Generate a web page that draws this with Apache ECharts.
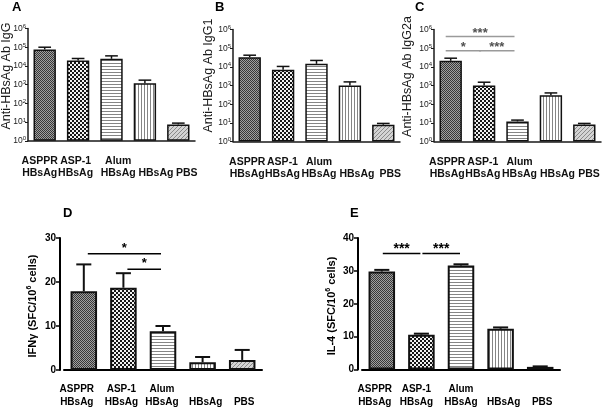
<!DOCTYPE html>
<html><head><meta charset="utf-8">
<script src="https://cdn.jsdelivr.net/npm/echarts@6/dist/echarts.min.js"></script>
<style>html,body{margin:0;padding:0;background:#fff}#c{width:602px;height:408px}</style>
</head><body><div id="c"></div>
<script>
// ---------------- data ----------------
const categories = ['ASPPR HBsAg', 'ASP-1 HBsAg', 'Alum HBsAg', 'HBsAg', 'PBS'];
const igG      = [7.6e4, 1.96e4, 2.4e4, 1.2e3, 7.5];
const igGErr   = [1.0e5, 2.5e4, 3.45e4, 1.74e3, 8.8];
const igG1     = [3.3e4, 6.9e3, 1.45e4, 1.0e3, 7.9];
const igG1Err  = [4.2e4, 1.05e4, 2.2e4, 1.56e3, 9.3];
const igG2a    = [2.1e4, 1.0e3, 11.9, 297, 8.2];
const igG2aErr = [2.9e4, 1.5e3, 14, 400, 9.3];
const ifng     = [17.9, 18.7, 8.8, 1.75, 2.28];
const ifngErr  = [24.0, 22.0, 10.0, 2.96, 4.56];
const il4      = [29.8, 10.6, 31.6, 12.4, 0.8];
const il4Err   = [30.3, 10.9, 32.0, 12.8, 0.95];
const logTicks  = [1, 1e1, 1e2, 1e3, 1e4, 1e5, 1e6];
const ifngTicks = [0, 10, 20, 30];
const il4Ticks  = [0, 10, 20, 30, 40];
const yTitles = ['Anti-HBsAg Ab IgG', 'Anti-HBsAg Ab IgG1', 'Anti-HBsAg Ab IgG2a', 'IFNγ (SFC/10{s|6} cells)', 'IL-4 (SFC/10{s|6} cells)'];
// significance brackets: [fromIndex, toIndex, level, label]
const sigC = [[0, 2, 4.2e5, '***'], [0, 1, 7.2e4, '*'], [1, 2, 7.2e4, '***']];
const sigD = [[0, 2, 26.4, '*'], [1, 2, 22.9, '*']];
const sigE = [[0, 1, 35.3, '***'], [1, 2, 35.3, '***']];

// ---------------- styles ----------------
function hasFont(f) {
  const c = document.createElement('canvas').getContext('2d');
  c.font = 'bold 20px monospace';
  const a = c.measureText('HBsAg mmmWi').width;
  c.font = 'bold 20px "' + f + '", monospace';
  const b = c.measureText('HBsAg mmmWi').width;
  return a !== b;
}
const NARROW = hasFont('Liberation Sans Narrow');
const SANS = '"Liberation Sans", Arial, sans-serif';
const LOWFONT = NARROW ? '"Liberation Sans Narrow", "Liberation Sans", sans-serif' : SANS;
const LOWSIZE = NARROW ? 11 : 10;

function makePatterns() {
  function cv(w, h, draw) {
    const c = document.createElement('canvas'); c.width = w; c.height = h;
    const x = c.getContext('2d'); draw(x); return { image: c, repeat: 'repeat' };
  }
  return [
    cv(4, 4, x => { x.fillStyle = '#a0a0a0'; x.fillRect(0, 0, 4, 4); x.fillStyle = '#383838';
      for (let i = 0; i < 4; i++) for (let j = 0; j < 4; j++) if ((i + j) % 2 === 0) x.fillRect(i, j, 1, 1); }),
    cv(4, 4, x => { x.fillStyle = '#f2f2f2'; x.fillRect(0, 0, 4, 4); x.fillStyle = '#161616'; x.fillRect(0, 0, 2, 2); x.fillRect(2, 2, 2, 2); }),
    cv(6, 6, x => { x.fillStyle = '#ffffff'; x.fillRect(0, 0, 6, 6); x.fillStyle = '#858585'; x.fillRect(0, 0, 6, 1); x.fillRect(0, 3, 6, 1); }),
    cv(6, 6, x => { x.fillStyle = '#ffffff'; x.fillRect(0, 0, 6, 6); x.fillStyle = '#858585'; x.fillRect(0, 0, 1, 6); x.fillRect(3, 0, 1, 6); }),
    cv(4, 4, x => { x.fillStyle = '#d4d4d4'; x.fillRect(0, 0, 4, 4); x.fillStyle = '#8a8a8a'; x.fillRect(3, 0, 1, 1); x.fillRect(2, 1, 1, 1); x.fillRect(1, 2, 1, 1); x.fillRect(0, 3, 1, 1); })
  ];
}
const PAT = makePatterns();

// label horizontal nudges (px) per panel
const SHIFT = [[-5, -2.5, 6.7, 11, 8.4], [-2.5, -0.6, 2.5, 7, 7], [-3.5, -1.3, 2, 6.6, 4.7], [-7, -2, -1, 3, 2], [-7, -5, 0, 3, 2]];

function catLabel(gi, base, margin) {
  const rich = {};
  SHIFT[gi].forEach((s, i) => {
    rich['t' + i] = Object.assign({}, base, { padding: s >= 0 ? [0, 0, 0, 2 * s] : [0, -2 * s, 0, 0] });
  });
  return Object.assign({}, base, {
    interval: 0, margin: margin, rich: rich,
    formatter: function (value, index) {
      const lines = value.split(' ');
      const body = lines.map(l => '{t' + index + '|' + l + '}').join('\n');
      return lines.length === 1 ? '\n' + body : body;
    }
  });
}

const grids = [
  { left: 28, top: 28.5, width: 167, height: 112.3 },
  { left: 233, top: 29.5, width: 167, height: 112 },
  { left: 434, top: 29.5, width: 167, height: 112 },
  { left: 64, top: 238, width: 198, height: 132 },
  { left: 362, top: 238, width: 198, height: 131.5 }
].map(g => Object.assign({ containLabel: false, outerBoundsMode: 'none' }, g));

const xAxes = [], yAxes = [], series = [];
for (let gi = 0; gi < 3; gi++) {
  xAxes.push({
    type: 'category', gridIndex: gi, data: categories,
    axisLine: { lineStyle: { color: '#1a1a1a', width: 1.5 } },
    axisTick: { alignWithLabel: true, length: 3, lineStyle: { color: '#1a1a1a', width: 1 } },
    axisLabel: catLabel(gi, { fontFamily: SANS, fontSize: 10.5, fontWeight: 'bold', color: '#111', lineHeight: 11.6 }, 15)
  });
  yAxes.push({
    type: 'log', logBase: 10, gridIndex: gi, min: logTicks[0], max: logTicks[logTicks.length - 1],
    axisLine: { show: true, lineStyle: { color: '#1a1a1a', width: 1.5 } },
    axisTick: { show: true, length: 3, lineStyle: { color: '#1a1a1a', width: 1 } },
    splitLine: { show: false },
    axisLabel: {
      margin: 2, color: '#222',
      formatter: v => '{b|10}{s|' + Math.round(Math.log10(v)) + '}',
      rich: { b: { fontFamily: SANS, fontSize: 8.5, lineHeight: 10, color: '#222' }, s: { fontFamily: SANS, fontSize: 6, lineHeight: 6, verticalAlign: 'top', color: '#222' } }
    }
  });
}
const lowTicks = [ifngTicks, il4Ticks];
for (let k = 0; k < 2; k++) {
  const gi = 3 + k, t = lowTicks[k];
  xAxes.push({
    type: 'category', gridIndex: gi, data: categories,
    axisLine: { lineStyle: { color: '#000', width: 2 } },
    axisTick: { alignWithLabel: true, length: 3, lineStyle: { color: '#000', width: 1.5 } },
    axisLabel: catLabel(gi, { fontFamily: LOWFONT, fontSize: LOWSIZE, fontWeight: 'bold', color: '#000', lineHeight: 13 }, 13)
  });
  yAxes.push({
    type: 'value', gridIndex: gi, min: t[0], max: t[t.length - 1], interval: t[1] - t[0], offset: 4,
    axisLine: { show: true, lineStyle: { color: '#000', width: 2 } },
    axisTick: { show: true, length: 4, lineStyle: { color: '#000', width: 1.5 } },
    splitLine: { show: false },
    axisLabel: { margin: 4, fontFamily: LOWFONT, fontSize: LOWSIZE, fontWeight: 'bold', color: '#000' }
  });
}

function barSeries(gi, vals, bw) {
  return {
    type: 'bar', xAxisIndex: gi, yAxisIndex: gi, barWidth: '67%', silent: true, animation: false, z: 2,
    data: vals.map((v, i) => ({ value: v, itemStyle: { color: PAT[i] } })),
    itemStyle: { borderColor: '#111', borderWidth: bw }
  };
}
function errSeries(gi, means, ups, lw) {
  return {
    type: 'custom', xAxisIndex: gi, yAxisIndex: gi, silent: true, animation: false, z: 5,
    data: means.map((m, i) => [i, m, ups[i]]),
    renderItem: function (params, api) {
      const p0 = api.coord([api.value(0), api.value(1)]);
      const p1 = api.coord([api.value(0), api.value(2)]);
      const hw = Math.abs(api.coord([1, api.value(1)])[0] - api.coord([0, api.value(1)])[0]) * 0.19;
      const st = { stroke: '#111', lineWidth: lw };
      return { type: 'group', children: [
        { type: 'line', shape: { x1: p0[0], y1: p0[1], x2: p1[0], y2: p1[1] }, style: st },
        { type: 'line', shape: { x1: p1[0] - hw, y1: p1[1], x2: p1[0] + hw, y2: p1[1] }, style: st }
      ] };
    }
  };
}
function sigSeries(gi, sig, o) {
  return {
    type: 'custom', xAxisIndex: gi, yAxisIndex: gi, silent: true, animation: false, z: 6,
    data: sig.map(s => [s[0], s[2], s[1]]),
    renderItem: function (params, api) {
      const s = sig[params.dataIndex];
      const a = api.coord([s[0], s[2]]), b = api.coord([s[1], s[2]]);
      const x1 = a[0] + o.inL, x2 = b[0] - o.inR;
      return { type: 'group', children: [
        { type: 'line', shape: { x1: x1, y1: a[1], x2: x2, y2: a[1] }, style: { stroke: o.color, lineWidth: o.lw } },
        { type: 'text', x: (x1 + x2) / 2, y: a[1] + o.dy, style: { text: s[3], fill: o.starColor, fontFamily: SANS, fontSize: o.fs, fontWeight: 'bold', align: 'center', verticalAlign: 'bottom' } }
      ] };
    }
  };
}
const means = [igG, igG1, igG2a, ifng, il4];
const ups = [igGErr, igG1Err, igG2aErr, ifngErr, il4Err];
for (let gi = 0; gi < 5; gi++) {
  const low = gi >= 3;
  series.push(barSeries(gi, means[gi], low ? 2 : 1.5));
  series.push(errSeries(gi, means[gi], ups[gi], low ? 2 : 1.5));
}
series.push(sigSeries(2, sigC, { color: '#9a9a9a', starColor: '#505050', lw: 1.5, fs: 13, dy: 3, inL: -5, inR: 3 }));
series.push(sigSeries(3, sigD, { color: '#000', starColor: '#000', lw: 1.5, fs: 13, dy: 1, inL: 4, inR: 2 }));
series.push(sigSeries(4, sigE, { color: '#000', starColor: '#000', lw: 1.5, fs: 14, dy: 3, inL: 1, inR: 1 }));

// y-axis titles (rotated text)
const titlePos = [[6.5, 76], [208.5, 75.5], [408, 76.5], [32.5, 306], [331.5, 306]];
const graphics = yTitles.map((t, i) => {
  const low = i >= 3;
  return {
    type: 'text', x: titlePos[i][0], y: titlePos[i][1], rotation: Math.PI / 2, silent: true,
    style: {
      text: t, align: 'center', verticalAlign: 'middle', fill: low ? '#000' : '#1a1a1a',
      fontFamily: SANS, fontSize: low ? 11 : 12.5, fontWeight: low ? 'bold' : 'normal', lineHeight: 13,
      rich: { s: { fontFamily: SANS, fontSize: 7, fontWeight: 'bold', lineHeight: 7, verticalAlign: 'top', fill: '#000' } }
    }
  };
});

const letters = [['A', 12, 1], ['B', 215, 1], ['C', 415, 1], ['D', 63, 207], ['E', 350, 207]];
const option = {
  backgroundColor: '#fff',
  animation: false,
  title: letters.map(l => ({ text: l[0], left: l[1], top: l[2], padding: 0, textStyle: { fontFamily: SANS, fontSize: 13, fontWeight: 'bold', color: '#000' } })),
  grid: grids, xAxis: xAxes, yAxis: yAxes, series: series, graphic: graphics
};
const chart = echarts.init(document.getElementById('c'), null, { renderer: 'canvas' });
chart.setOption(option);
</script></body></html>
